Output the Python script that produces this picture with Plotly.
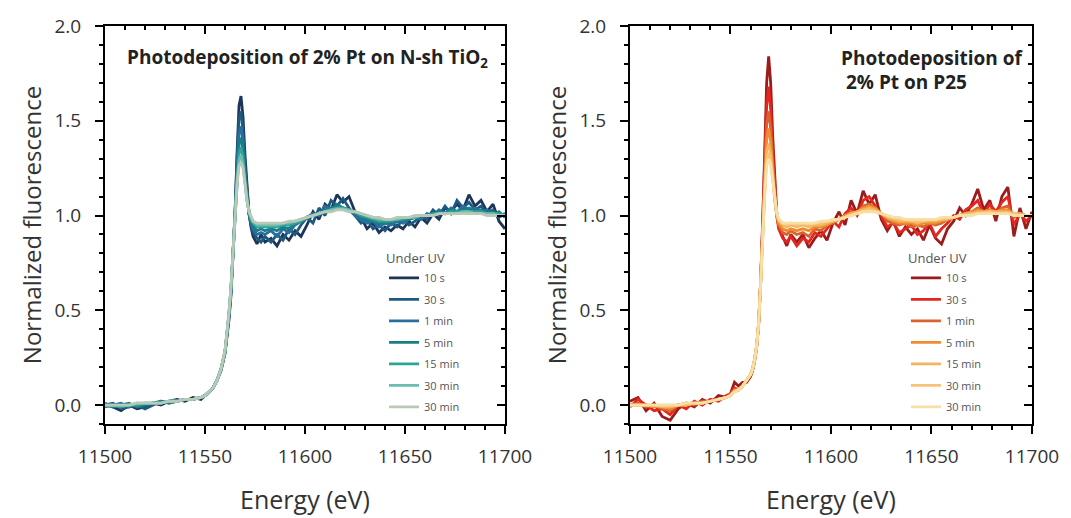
import plotly.graph_objects as go

# ---------------- data ----------------
energy = [11500, 11504, 11508, 11512, 11516, 11520, 11524, 11528, 11532, 11536, 11540, 11544, 11548,
          11550, 11552, 11554, 11556, 11558, 11560, 11561, 11562, 11563, 11564, 11565, 11566, 11567,
          11568, 11569, 11570, 11571, 11572, 11573, 11574, 11576, 11578, 11580,
          11583, 11586, 11589, 11592, 11595, 11598, 11601, 11604, 11607, 11610, 11613, 11616, 11619,
          11622, 11625, 11628, 11631, 11634, 11637, 11640, 11643, 11646, 11649, 11652, 11655, 11658,
          11661, 11664, 11667, 11670, 11673, 11676, 11679, 11682, 11685, 11688, 11691, 11694, 11697, 11700]

labels = ["10 s", "30 s", "1 min", "5 min", "15 min", "30 min", "30 min"]

# Left panel: 2% Pt on N-sh TiO2
ntio2_10s = [0.01, -0.01, -0.03, 0.00, -0.02, -0.01, 0.01, 0.00, 0.02, 0.03, 0.02, 0.04, 0.03,
             0.05, 0.07, 0.09, 0.13, 0.18, 0.27, 0.35, 0.45, 0.58, 0.76, 1.00, 1.32, 1.58, 1.63, 1.52, 1.32, 1.14, 1.01, 0.94, 0.89, 0.85, 0.90, 0.86,
             0.88, 0.84, 0.90, 0.87, 0.92, 0.89, 0.95, 1.02, 0.98, 1.06, 1.03, 1.11, 1.07, 1.10, 1.02, 0.99, 0.93, 0.96, 0.91, 0.94,
             0.92, 0.95, 0.93, 0.97, 0.94, 0.99, 0.96, 1.01, 0.98, 1.04, 1.02, 1.06, 1.03, 1.11, 1.05, 1.08, 1.02, 1.06, 0.97, 0.93]
ntio2_30s = [0.00, 0.01, -0.02, -0.01, 0.00, -0.02, 0.00, 0.02, 0.01, 0.02, 0.03, 0.03, 0.04,
             0.05, 0.07, 0.09, 0.13, 0.19, 0.28, 0.36, 0.47, 0.60, 0.78, 1.01, 1.29, 1.51, 1.55, 1.45, 1.27, 1.12, 1.01, 0.95, 0.91, 0.88, 0.86, 0.89,
             0.86, 0.90, 0.87, 0.93, 0.90, 0.95, 0.99, 0.96, 1.04, 1.00, 1.08, 1.05, 1.09, 1.04, 1.00, 0.96, 0.98, 0.93, 0.95, 0.92,
             0.96, 0.94, 0.98, 0.95, 0.97, 1.00, 0.98, 1.03, 1.00, 1.05, 1.01, 1.08, 1.04, 1.07, 1.03, 1.05, 1.01, 1.03, 0.99, 1.01]
ntio2_1min = [-0.01, 0.00, 0.01, -0.01, 0.01, 0.00, 0.01, 0.01, 0.02, 0.02, 0.03, 0.03, 0.04,
              0.05, 0.07, 0.09, 0.13, 0.19, 0.28, 0.36, 0.47, 0.60, 0.79, 1.01, 1.25, 1.43, 1.47, 1.39, 1.23, 1.10, 1.01, 0.96, 0.93, 0.90, 0.91, 0.90,
              0.92, 0.89, 0.93, 0.91, 0.95, 0.97, 0.99, 1.01, 1.00, 1.05, 1.03, 1.06, 1.04, 1.03, 1.00, 0.98, 0.96, 0.97, 0.94, 0.96,
              0.95, 0.97, 0.96, 0.98, 0.99, 0.98, 1.01, 1.00, 1.03, 1.01, 1.04, 1.02, 1.05, 1.03, 1.04, 1.02, 1.03, 1.00, 1.02, 0.99]
ntio2_5min = [0.00, -0.01, 0.00, 0.01, -0.01, 0.00, 0.01, 0.02, 0.01, 0.02, 0.03, 0.03, 0.04,
              0.05, 0.07, 0.09, 0.13, 0.19, 0.28, 0.37, 0.48, 0.61, 0.80, 1.01, 1.22, 1.38, 1.41, 1.34, 1.20, 1.09, 1.01, 0.97, 0.95, 0.92, 0.93, 0.92,
              0.93, 0.92, 0.94, 0.93, 0.96, 0.97, 0.99, 1.00, 1.01, 1.03, 1.04, 1.05, 1.04, 1.03, 1.01, 0.99, 0.98, 0.97, 0.96, 0.96,
              0.97, 0.97, 0.98, 0.98, 0.99, 1.00, 1.00, 1.01, 1.02, 1.01, 1.03, 1.02, 1.03, 1.04, 1.02, 1.03, 1.01, 1.02, 1.00, 1.01]
ntio2_15min = [0.00, 0.00, -0.01, 0.00, 0.00, 0.01, 0.01, 0.01, 0.02, 0.02, 0.03, 0.03, 0.04,
               0.05, 0.07, 0.09, 0.13, 0.19, 0.28, 0.37, 0.48, 0.62, 0.81, 1.01, 1.20, 1.33, 1.36, 1.30, 1.18, 1.08, 1.02, 0.98, 0.96, 0.94, 0.94, 0.94,
               0.94, 0.94, 0.95, 0.95, 0.96, 0.97, 0.99, 1.00, 1.01, 1.02, 1.03, 1.04, 1.04, 1.03, 1.02, 1.00, 0.99, 0.98, 0.97, 0.97,
               0.97, 0.98, 0.98, 0.99, 0.99, 1.00, 1.00, 1.01, 1.01, 1.01, 1.02, 1.02, 1.02, 1.02, 1.02, 1.02, 1.01, 1.01, 1.01, 1.00]
ntio2_30min = [0.00, 0.00, 0.00, 0.00, 0.01, 0.01, 0.01, 0.01, 0.02, 0.02, 0.03, 0.03, 0.04,
               0.05, 0.07, 0.09, 0.13, 0.19, 0.28, 0.37, 0.49, 0.62, 0.81, 1.01, 1.18, 1.29, 1.32, 1.27, 1.17, 1.08, 1.02, 0.99, 0.97, 0.95, 0.95, 0.95,
               0.95, 0.95, 0.96, 0.96, 0.97, 0.98, 0.99, 1.00, 1.01, 1.02, 1.03, 1.035, 1.035, 1.03, 1.02, 1.01, 1.00, 0.99, 0.98, 0.98,
               0.98, 0.98, 0.99, 0.99, 0.99, 1.00, 1.00, 1.00, 1.01, 1.01, 1.01, 1.01, 1.02, 1.02, 1.01, 1.01, 1.01, 1.01, 1.00, 1.00]
ntio2_30min_b = [0.00, 0.00, 0.00, 0.00, 0.01, 0.01, 0.01, 0.01, 0.02, 0.02, 0.03, 0.03, 0.04,
                 0.05, 0.07, 0.09, 0.13, 0.19, 0.29, 0.38, 0.49, 0.63, 0.81, 1.01, 1.16, 1.26, 1.28, 1.25, 1.16, 1.08, 1.02, 0.99, 0.97, 0.96, 0.96, 0.96,
                 0.96, 0.96, 0.96, 0.97, 0.97, 0.98, 0.99, 1.00, 1.01, 1.02, 1.02, 1.03, 1.03, 1.02, 1.02, 1.01, 1.00, 0.99, 0.99, 0.98,
                 0.98, 0.99, 0.99, 0.99, 1.00, 1.00, 1.00, 1.00, 1.01, 1.01, 1.01, 1.01, 1.01, 1.01, 1.01, 1.01, 1.00, 1.00, 1.00, 1.00]

# Right panel: 2% Pt on P25
p25_10s = [0.02, 0.04, -0.03, 0.01, -0.06, -0.08, -0.02, 0.01, -0.01, 0.03, 0.01, 0.05, 0.04,
           0.06, 0.12, 0.10, 0.12, 0.12, 0.15, 0.18, 0.23, 0.30, 0.42, 0.64, 0.95, 1.32, 1.70, 1.84, 1.70, 1.42, 1.18, 1.02, 0.94, 0.89, 0.84, 0.90,
           0.86, 0.90, 0.83, 0.88, 0.92, 0.87, 0.96, 1.02, 0.95, 1.08, 1.01, 1.13, 1.06, 1.11, 0.98, 0.92, 0.97, 0.89, 0.94, 0.90,
           0.93, 0.87, 0.95, 0.88, 0.85, 0.93, 0.97, 1.04, 1.00, 1.06, 1.14, 1.03, 1.08, 0.97, 1.10, 1.15, 0.89, 1.04, 0.93, 1.02]
p25_30s = [-0.01, 0.03, 0.00, -0.03, -0.02, -0.05, 0.00, -0.02, 0.02, 0.00, 0.03, 0.02, 0.05,
           0.06, 0.09, 0.08, 0.10, 0.13, 0.16, 0.19, 0.24, 0.31, 0.43, 0.65, 0.94, 1.28, 1.58, 1.68, 1.56, 1.34, 1.14, 1.00, 0.93, 0.88, 0.86, 0.89,
           0.84, 0.88, 0.86, 0.91, 0.89, 0.93, 0.97, 0.94, 1.01, 1.04, 1.00, 1.08, 1.10, 1.05, 1.00, 0.94, 0.96, 0.91, 0.93, 0.95,
           0.90, 0.92, 0.96, 0.89, 0.93, 0.96, 1.00, 0.98, 1.03, 1.05, 1.08, 1.01, 1.06, 1.02, 1.07, 1.10, 0.95, 1.01, 0.97, 1.00]
p25_1min = [0.00, 0.01, -0.01, 0.00, -0.02, -0.03, 0.00, 0.01, 0.00, 0.02, 0.02, 0.03, 0.04,
            0.06, 0.08, 0.08, 0.10, 0.13, 0.16, 0.19, 0.24, 0.31, 0.43, 0.65, 0.93, 1.23, 1.48, 1.55, 1.46, 1.28, 1.11, 1.00, 0.95, 0.91, 0.90, 0.92,
            0.90, 0.91, 0.89, 0.93, 0.92, 0.95, 0.96, 0.98, 1.00, 1.02, 1.01, 1.05, 1.06, 1.04, 1.01, 0.97, 0.96, 0.95, 0.96, 0.94,
            0.95, 0.94, 0.96, 0.95, 0.96, 0.98, 0.99, 1.00, 1.01, 1.02, 1.04, 1.02, 1.03, 1.01, 1.04, 1.05, 0.99, 1.01, 1.00, 1.00]
p25_5min = [0.00, 0.00, 0.00, -0.01, -0.01, -0.02, 0.00, 0.00, 0.01, 0.01, 0.02, 0.03, 0.04,
            0.05, 0.08, 0.08, 0.10, 0.13, 0.16, 0.19, 0.24, 0.31, 0.43, 0.64, 0.91, 1.19, 1.40, 1.46, 1.39, 1.24, 1.09, 1.00, 0.96, 0.93, 0.92, 0.93,
            0.92, 0.93, 0.92, 0.94, 0.94, 0.95, 0.97, 0.98, 1.00, 1.01, 1.02, 1.04, 1.05, 1.04, 1.01, 0.99, 0.97, 0.96, 0.96, 0.96,
            0.95, 0.96, 0.96, 0.96, 0.97, 0.98, 0.99, 1.00, 1.01, 1.02, 1.03, 1.02, 1.03, 1.02, 1.03, 1.03, 1.00, 1.01, 1.00, 1.00]
p25_15min = [0.00, 0.00, 0.00, 0.00, -0.01, -0.01, 0.00, 0.00, 0.01, 0.01, 0.02, 0.03, 0.04,
             0.05, 0.07, 0.08, 0.10, 0.13, 0.16, 0.19, 0.24, 0.31, 0.43, 0.64, 0.90, 1.16, 1.34, 1.38, 1.33, 1.21, 1.08, 1.01, 0.97, 0.95, 0.94, 0.95,
             0.94, 0.95, 0.94, 0.95, 0.95, 0.96, 0.97, 0.98, 0.99, 1.01, 1.02, 1.03, 1.04, 1.03, 1.01, 0.99, 0.98, 0.97, 0.97, 0.97,
             0.96, 0.97, 0.97, 0.97, 0.98, 0.98, 0.99, 1.00, 1.01, 1.01, 1.02, 1.02, 1.02, 1.02, 1.02, 1.02, 1.01, 1.01, 1.00, 1.00]
p25_30min = [0.00, 0.00, 0.00, 0.00, 0.00, 0.00, 0.00, 0.01, 0.01, 0.01, 0.02, 0.03, 0.04,
             0.05, 0.07, 0.08, 0.10, 0.13, 0.16, 0.19, 0.24, 0.31, 0.43, 0.64, 0.89, 1.13, 1.29, 1.33, 1.29, 1.19, 1.08, 1.01, 0.98, 0.96, 0.95, 0.96,
             0.95, 0.96, 0.95, 0.96, 0.96, 0.97, 0.97, 0.98, 0.99, 1.00, 1.01, 1.02, 1.03, 1.02, 1.01, 1.00, 0.99, 0.98, 0.98, 0.97,
             0.97, 0.97, 0.98, 0.98, 0.98, 0.99, 0.99, 1.00, 1.00, 1.01, 1.01, 1.01, 1.02, 1.01, 1.01, 1.01, 1.01, 1.00, 1.00, 1.00]
p25_30min_b = [0.00, 0.00, 0.00, 0.00, 0.00, 0.00, 0.00, 0.01, 0.01, 0.01, 0.02, 0.03, 0.04,
               0.05, 0.07, 0.08, 0.10, 0.13, 0.16, 0.19, 0.24, 0.31, 0.43, 0.63, 0.88, 1.11, 1.26, 1.30, 1.27, 1.18, 1.08, 1.02, 0.98, 0.96, 0.96, 0.96,
               0.96, 0.96, 0.96, 0.96, 0.97, 0.97, 0.98, 0.98, 0.99, 1.00, 1.01, 1.02, 1.02, 1.02, 1.01, 1.00, 0.99, 0.99, 0.98, 0.98,
               0.98, 0.98, 0.98, 0.98, 0.99, 0.99, 0.99, 1.00, 1.00, 1.00, 1.01, 1.01, 1.01, 1.01, 1.01, 1.01, 1.00, 1.00, 1.00, 1.00]

left_series = [ntio2_10s, ntio2_30s, ntio2_1min, ntio2_5min, ntio2_15min, ntio2_30min, ntio2_30min_b]
right_series = [p25_10s, p25_30s, p25_1min, p25_5min, p25_15min, p25_30min, p25_30min_b]

blue_colors = ["#1c3558", "#1d5a80", "#2a6e9e", "#1a7e86", "#2ea39a", "#6cbcaf", "#b9c9b5"]
red_colors = ["#9c1c1c", "#e5261f", "#d9622f", "#f08c2e", "#f2b45c", "#f8c27a", "#f6e0a6"]

xrange_ = [11500, 11700]
yrange_ = [-0.1, 2.0]

# ---------------- figure ----------------
FONT = "Open Sans"
TXT = "#333333"
fig = go.Figure()

for i, ys in enumerate(left_series):
    fig.add_trace(go.Scatter(x=energy, y=ys, mode="lines", name=labels[i],
                             line=dict(color=blue_colors[i], width=2.8),
                             xaxis="x", yaxis="y", legend="legend",
                             legendgroup="L%d" % i))
for i, ys in enumerate(right_series):
    fig.add_trace(go.Scatter(x=energy, y=ys, mode="lines", name=labels[i],
                             line=dict(color=red_colors[i], width=2.8),
                             xaxis="x2", yaxis="y2", legend="legend2",
                             legendgroup="R%d" % i))

# transparent carrier traces so the mirrored (top / right, inward) tick axes are drawn
for xa, ya in (("x3", "y3"), ("x4", "y4")):
    fig.add_trace(go.Scatter(x=xrange_, y=yrange_, mode="lines", line=dict(width=0, color="rgba(0,0,0,0)"),
                             showlegend=False, hoverinfo="skip", xaxis=xa, yaxis=ya))

dom_l = [0.0, 0.4315]
dom_r = [0.5663, 1.0]

def xmain(domain, anchor):
    return dict(domain=domain, anchor=anchor, range=xrange_, tick0=11500, dtick=50,
                tickformat="d", automargin=False,
                ticks="outside", ticklen=8, tickwidth=2, tickcolor="black",
                ticklabelstandoff=6,
                minor=dict(dtick=10, ticks="outside", ticklen=4, tickwidth=1.5, tickcolor="black"),
                showline=True, linewidth=2, linecolor="black", mirror=True,
                showgrid=False, zeroline=False,
                tickfont=dict(family=FONT, size=19, color=TXT),
                title=dict(text="Energy (eV)", font=dict(family=FONT, size=25, color=TXT), standoff=24))

def xtop(domain, overlay, anchor):
    return dict(domain=domain, anchor=anchor, overlaying=overlay, side="top", range=xrange_,
                tick0=11500, dtick=50, ticks="inside", ticklen=8, tickwidth=2, tickcolor="black",
                minor=dict(dtick=10, ticks="inside", ticklen=4, tickwidth=1.5, tickcolor="black"),
                showticklabels=False, showline=False, showgrid=False, zeroline=False,
                automargin=False)

def ymain(anchor):
    return dict(domain=[0, 1], anchor=anchor, range=yrange_, tick0=0, dtick=0.5,
                tickformat=".1f", automargin=False,
                ticks="outside", ticklen=8, tickwidth=2, tickcolor="black",
                ticklabelstandoff=10,
                minor=dict(dtick=0.1, ticks="outside", ticklen=4, tickwidth=1.5, tickcolor="black"),
                showline=True, linewidth=2, linecolor="black", mirror=True,
                showgrid=False, zeroline=False,
                tickfont=dict(family=FONT, size=19, color=TXT),
                title=dict(text="Normalized fluorescence", font=dict(family=FONT, size=24, color=TXT), standoff=6))

def yright(domain, overlay, anchor):
    return dict(domain=domain, anchor=anchor, overlaying=overlay, side="right", range=yrange_,
                tick0=0, dtick=0.5, ticks="inside", ticklen=8, tickwidth=2, tickcolor="black",
                minor=dict(dtick=0.1, ticks="inside", ticklen=4, tickwidth=1.5, tickcolor="black"),
                showticklabels=False, showline=False, showgrid=False, zeroline=False,
                automargin=False)

leg_common = dict(bgcolor="rgba(0,0,0,0)", borderwidth=0, tracegroupgap=2.5,
                  font=dict(family=FONT, size=11, color="#555555"),
                  title=dict(text="Under UV", font=dict(family=FONT, size=13, color="#555555")),
                  itemwidth=30, xanchor="left", yanchor="top", traceorder="grouped")

# the page body adds an 8 px offset, so the figure is sized to fit inside the window
fig.update_layout(
    width=1063, height=510,
    margin=dict(l=97, r=39, t=18, b=94),
    paper_bgcolor="white", plot_bgcolor="white",
    xaxis=xmain(dom_l, "y"),
    yaxis=ymain("x"),
    xaxis2=xmain(dom_r, "y2"),
    yaxis2=ymain("x2"),
    xaxis3=xtop(dom_l, "x", "y3"),
    yaxis3=yright([0, 1], "y", "x3"),
    xaxis4=xtop(dom_r, "x2", "y4"),
    yaxis4=yright([0, 1], "y2", "x4"),
    legend=dict(x=0.301, y=0.446, **leg_common),
    legend2=dict(x=0.864, y=0.446, **leg_common),
    showlegend=True,
)

fig.add_annotation(text="Photodeposition of 2% Pt on N-sh TiO<sub>2</sub>", xref="paper", yref="paper",
                   x=0.022, y=0.92, xanchor="left", yanchor="middle", showarrow=False,
                   font=dict(family=FONT, size=19, color="#222222", weight="bold"))
fig.add_annotation(text="Photodeposition of", xref="paper", yref="paper",
                   x=0.792, y=0.92, xanchor="left", yanchor="middle", showarrow=False,
                   font=dict(family=FONT, size=19, color="#222222", weight="bold"))
fig.add_annotation(text="2% Pt on P25", xref="paper", yref="paper",
                   x=0.797, y=0.86, xanchor="left", yanchor="middle", showarrow=False,
                   font=dict(family=FONT, size=19, color="#222222", weight="bold"))

fig.write_html("out.html")
